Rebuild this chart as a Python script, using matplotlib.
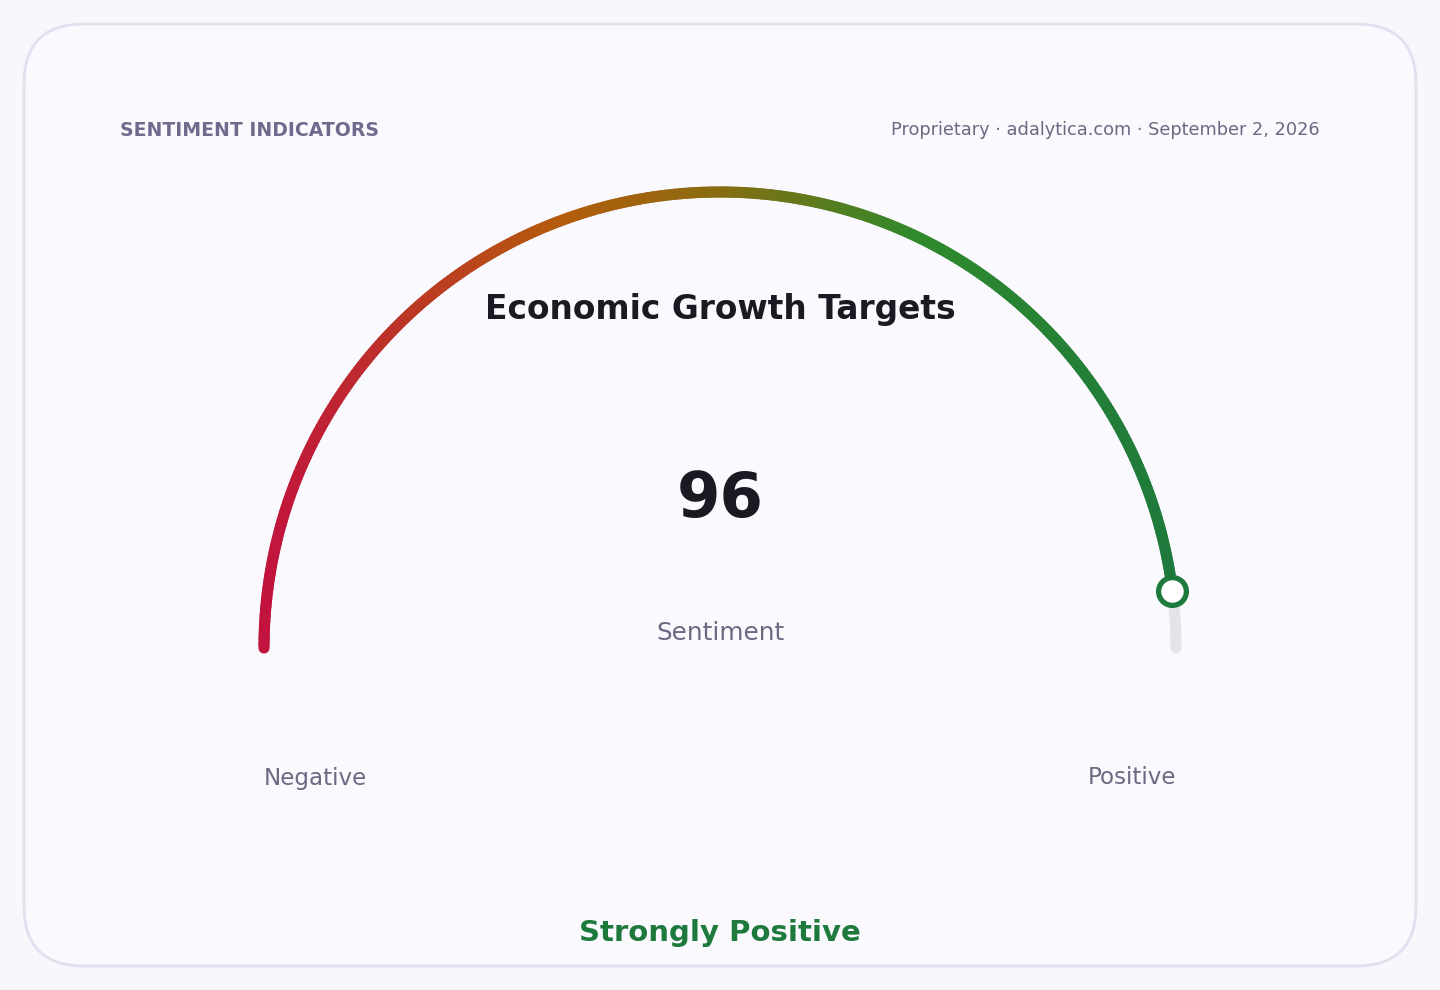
import matplotlib.pyplot as plt
import numpy as np
from matplotlib.collections import LineCollection
from matplotlib.colors import LinearSegmentedColormap
from matplotlib.patches import FancyBboxPatch

# gauge data
value = 96
v_min = 0
v_max = 100
title = "Economic Growth Targets"
kicker = "SENTIMENT INDICATORS"
source = "Proprietary · adalytica.com · September 2, 2026"
value_label = "Sentiment"
low_label = "Negative"
high_label = "Positive"
verdict = "Strongly Positive"

W, H = 1440, 990
fig = plt.figure(figsize=(W / 100, H / 100), dpi=100)
fig.patch.set_facecolor("#f7f7fc")
ax = fig.add_axes([0, 0, 1, 1])
ax.set_xlim(0, W)
ax.set_ylim(H, 0)
ax.axis("off")

# card
card = FancyBboxPatch((24, 24), 1392, 942, boxstyle="round,pad=0,rounding_size=60",
                      facecolor="#f9f9fe", edgecolor="#e0e0ee", linewidth=2)
ax.add_patch(card)

cx, cy, r = 720, 648, 456
lw = 8

# grey track
t = np.linspace(np.pi, 0, 400)
ax.plot(cx + r * np.cos(t), cy - r * np.sin(t), color="#e3e3ea", lw=lw,
        solid_capstyle="round", zorder=2)

# colored value arc, gradient runs left to right across the gauge
frac = (value - v_min) / (v_max - v_min)
cmap = LinearSegmentedColormap.from_list(
    "sent", [(0, "#c2133e"), (0.33, "#b55c0c"), (0.5, "#8a6c10"),
             (0.72, "#2f8a2c"), (1, "#1e7a3c")])
n = 300
tv = np.linspace(np.pi, np.pi - frac * np.pi, n)
px = cx + r * np.cos(tv)
py = cy - r * np.sin(tv)
pts = np.column_stack([px, py]).reshape(-1, 1, 2)
segs = np.concatenate([pts[:-1], pts[1:]], axis=1)
xmid = (px[:-1] + px[1:]) / 2
lc = LineCollection(segs, colors=cmap((xmid - (cx - r)) / (2 * r)), linewidths=lw,
                    capstyle="round", zorder=3)
ax.add_collection(lc)

# end marker
ax.plot(px[-1], py[-1], "o", ms=20, mfc="white", mec="#1e7a3c", mew=3.8, zorder=4)

# texts
ax.text(120, 130, kicker, fontsize=13.6, fontweight="bold", color="#6e6b8c",
        ha="left", va="center")
ax.text(1320, 130, source, fontsize=12.8, color="#6a6a82", ha="right", va="center")
ax.text(720, 309, title, fontsize=23.7, fontweight="bold", color="#1a1a22",
        ha="center", va="center")
ax.text(720, 500, f"{value}", fontsize=45, fontweight="bold", color="#1a1a22",
        ha="center", va="center")
ax.text(720, 633, value_label, fontsize=17.8, color="#6a6a82", ha="center", va="center")
ax.text(264, 778, low_label, fontsize=16.6, color="#6a6a82", ha="left", va="center")
ax.text(1176, 778, high_label, fontsize=16.6, color="#6a6a82", ha="right", va="center")
ax.text(720, 933, verdict, fontsize=21, fontweight="bold", color="#1e7a3c",
        ha="center", va="center")

fig.savefig("out.png", dpi=100, facecolor=fig.get_facecolor())
